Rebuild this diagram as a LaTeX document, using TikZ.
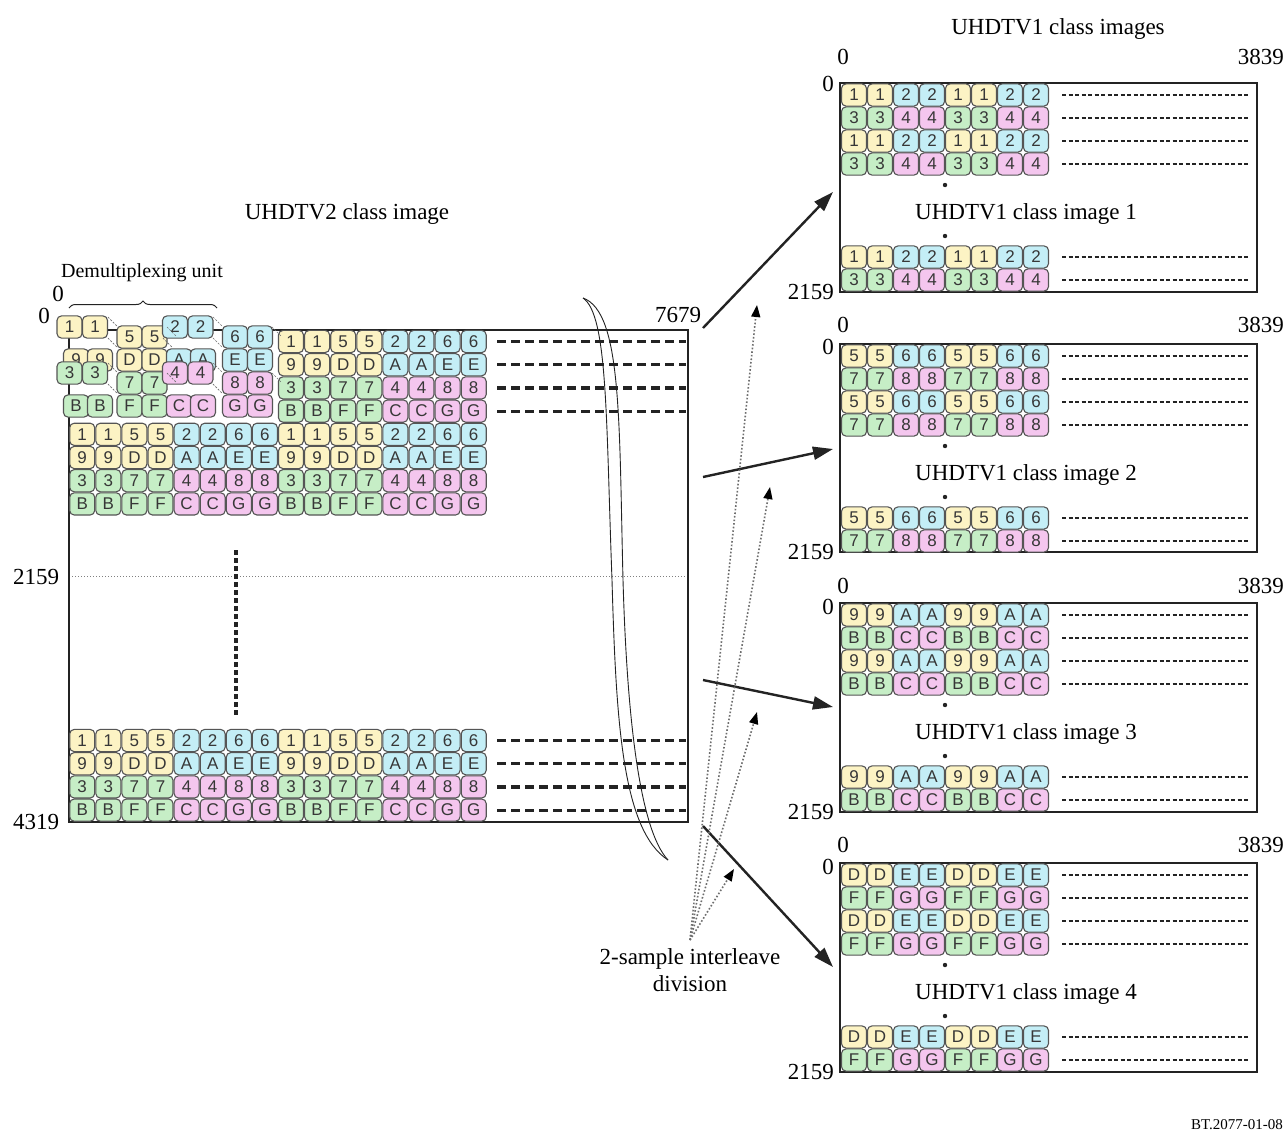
\documentclass[tikz,border=0pt]{standalone}
\usepackage{fontspec}
\setmainfont{Liberation Serif}
\setsansfont{Liberation Sans}
\usetikzlibrary{arrows.meta,decorations.pathreplacing}
\definecolor{cy}{RGB}{252,243,196}
\definecolor{cc}{RGB}{196,238,246}
\definecolor{cg}{RGB}{198,238,198}
\definecolor{cp}{RGB}{244,198,238}
\definecolor{cb}{RGB}{85,85,85}
\definecolor{ct}{RGB}{55,55,55}
\definecolor{ln}{RGB}{35,35,35}
\definecolor{dg}{RGB}{110,110,110}
\tikzset{
 cellbox/.style={draw=cb, line width=1.1pt, rounded corners=4.5pt, minimum width=25pt, minimum height=22.2pt, inner sep=0pt, font=\sffamily\fontsize{17}{17}\selectfont, text=ct},
 lbl/.style={font=\fontsize{23}{27}\selectfont, inner sep=0pt, text=black},
 frame/.style={line width=2pt, draw=ln},
 thickdash/.style={line width=3.2pt, draw=ln, dash pattern=on 9pt off 5pt},
 thindash/.style={line width=1.4pt, draw=ln, dash pattern=on 4pt off 2.5pt},
 vdots/.style={line width=4pt, draw=ln, dash pattern=on 5pt off 3pt},
 ghost/.style={line width=0.7pt, draw=dg, dash pattern=on 2pt off 1.5pt},
 bigarrow/.style={line width=2.4pt, draw=ln, -{Triangle[length=20pt,width=13pt]}},
 dotarrow/.style={line width=1.6pt, draw=dg, dotted, -{Triangle[length=12pt,width=9pt,color=black]}},
 wave/.style={line width=0.9pt, draw=ln}
}
\newcommand\cellrow[4]{\foreach \lab/\col [count=\i from 0] in #4 {\node[cellbox, fill=\col] at ({#1+#3*\i},{#2}) {\lab};}}
\newcommand\ucell[4]{\node[cellbox, fill=#3] at (#1,#2) {#4};}
\def\rA{1/cy,1/cy,5/cy,5/cy,2/cc,2/cc,6/cc,6/cc}
\def\rB{9/cy,9/cy,D/cy,D/cy,A/cc,A/cc,E/cc,E/cc}
\def\rC{3/cg,3/cg,7/cg,7/cg,4/cp,4/cp,8/cp,8/cp}
\def\rD{B/cg,B/cg,F/cg,F/cg,C/cp,C/cp,G/cp,G/cp}
\def\iAa{1/cy,1/cy,2/cc,2/cc,1/cy,1/cy,2/cc,2/cc}
\def\iAb{3/cg,3/cg,4/cp,4/cp,3/cg,3/cg,4/cp,4/cp}
\def\iBa{5/cy,5/cy,6/cc,6/cc,5/cy,5/cy,6/cc,6/cc}
\def\iBb{7/cg,7/cg,8/cp,8/cp,7/cg,7/cg,8/cp,8/cp}
\def\iCa{9/cy,9/cy,A/cc,A/cc,9/cy,9/cy,A/cc,A/cc}
\def\iCb{B/cg,B/cg,C/cp,C/cp,B/cg,B/cg,C/cp,C/cp}
\def\iDa{D/cy,D/cy,E/cc,E/cc,D/cy,D/cy,E/cc,E/cc}
\def\iDb{F/cg,F/cg,G/cp,G/cp,F/cg,F/cg,G/cp,G/cp}
\newcommand\uimg[7]{%
 \draw[frame] (840,#1) rectangle (1257,#2);
 \cellrow{854}{#1+12}{26}{#4}
 \cellrow{854}{#1+35}{26}{#5}
 \cellrow{854}{#1+58}{26}{#4}
 \cellrow{854}{#1+81}{26}{#5}
 \cellrow{854}{#1+174}{26}{#4}
 \cellrow{854}{#1+197}{26}{#5}
 \foreach \d in {12,35,58,81,174,197} {\draw[thindash] (1062,{#1+\d}) -- (1248,{#1+\d});}
 \node[lbl] (cap#3) at (1026,{#1+131}) {UHDTV1 class image #3};
 \fill[ln] (945,{#1+102}) circle (2.2);
 \fill[ln] (945,{#1+153}) circle (2.2);
 \node[lbl] (tl#3) at (843,#6) {0};
 \node[lbl,anchor=east] (tr#3) at (1284,#6) {3839};
 \node[lbl] (ll#3) at (828,#7) {0};
 \node[lbl,anchor=east] (lb#3) at (834,#2) {2159};
}
\begin{document}
\begin{tikzpicture}[x=1pt,y=-1pt]
\useasboundingbox (0,0) rectangle (1285,1133);
\fill[white] (0,0) rectangle (1285,1133);

% ---- titles and labels, left
\node[lbl] (t2) at (347,214) {UHDTV2 class image};
\node[lbl, font=\fontsize{20}{24}\selectfont] (dmx) at (142,273) {Demultiplexing unit};
\draw[decorate, decoration={brace, amplitude=7pt}, line width=1pt, draw=ln] (69,308) -- (217,308);
\node[lbl] (z1) at (58,294) {0};
\node[lbl] (z2) at (44,316) {0};
\node[lbl] (n7679) at (678,315) {7679};
\node[lbl] (n2159) at (36,577) {2159};
\node[lbl] (n4319) at (36,822) {4319};

% ---- big image
\draw[gray, dotted, line width=1pt] (69,576) -- (688,576);
\draw[frame] (69,330) rectangle (688,822);

% right block of the first 4 rows
\cellrow{291}{341.5}{26.1}{\rA}
\cellrow{291}{364.7}{26.1}{\rB}
\cellrow{291}{387.9}{26.1}{\rC}
\cellrow{291}{411.1}{26.1}{\rD}
% rows 5-8 and bottom rows
\foreach \xx in {82.2,291}{
 \cellrow{\xx}{434.3}{26.1}{\rA}
 \cellrow{\xx}{457.5}{26.1}{\rB}
 \cellrow{\xx}{480.7}{26.1}{\rC}
 \cellrow{\xx}{503.9}{26.1}{\rD}
 \cellrow{\xx}{740.5}{26.1}{\rA}
 \cellrow{\xx}{763.7}{26.1}{\rB}
 \cellrow{\xx}{786.9}{26.1}{\rC}
 \cellrow{\xx}{810.1}{26.1}{\rD}
}

% exploded demultiplexing unit
\ucell{76}{360}{cy}{9}\ucell{100}{360}{cy}{9}
\ucell{129.5}{360}{cy}{D}\ucell{154.5}{360}{cy}{D}
\ucell{179}{360}{cc}{A}\ucell{203}{360}{cc}{A}
\ucell{235}{360}{cc}{E}\ucell{260}{360}{cc}{E}
\ucell{129.5}{337}{cy}{5}\ucell{154.5}{337}{cy}{5}
\ucell{235}{337}{cc}{6}\ucell{260}{337}{cc}{6}
\ucell{69.5}{327}{cy}{1}\ucell{95}{327}{cy}{1}
\ucell{175}{327}{cc}{2}\ucell{200.5}{327}{cc}{2}
\ucell{76}{406}{cg}{B}\ucell{100}{406}{cg}{B}
\ucell{129.5}{406}{cg}{F}\ucell{154.5}{406}{cg}{F}
\ucell{179}{406}{cp}{C}\ucell{203}{406}{cp}{C}
\ucell{235}{406}{cp}{G}\ucell{260}{406}{cp}{G}
\ucell{129.5}{383}{cg}{7}\ucell{154.5}{383}{cg}{7}
\ucell{235}{383}{cp}{8}\ucell{260}{383}{cp}{8}
\ucell{69.5}{373}{cg}{3}\ucell{95}{373}{cg}{3}
\ucell{175}{373}{cp}{4}\ucell{200.5}{373}{cp}{4}
% ghost extrusion lines
\foreach \gx/\gy in {108/317,108/338,163/338,213/317,213/338,108/363,108/384,213/363,213/384,167/327,272/327,167/373,272/373}{
 \draw[ghost] (\gx,\gy) -- ++(9,9);
}

% thick dashed continuation lines
\foreach \yy in {341.5,364.7,387.9,411.1,740.5,763.7,786.9,810.1}{
 \draw[thickdash] (497,\yy) -- (686,\yy);
}
\draw[vdots] (236,550) -- (236,716);

% break (wave) lines
\draw[wave] (583,298) .. controls (608,315) and (606,420) .. (612,580) .. controls (616,720) and (622,830) .. (668,860);
\draw[wave] (583,298) .. controls (622,312) and (619,420) .. (623,580) .. controls (627,720) and (640,830) .. (668,860);

% ---- right images
\node[lbl] (t1) at (1058,29) {UHDTV1 class images};
\uimg{83}{292}{1}{\iAa}{\iAb}{57}{84}
\uimg{344}{552}{2}{\iBa}{\iBb}{325}{347}
\uimg{603}{812}{3}{\iCa}{\iCb}{586}{607}
\uimg{863}{1072}{4}{\iDa}{\iDb}{845}{867}

% ---- arrows
\coordinate (s1) at (703,328); \coordinate (e1) at (833,192);
\coordinate (s2) at (703,477); \coordinate (e2) at (833,449);
\coordinate (s3) at (703,680); \coordinate (e3) at (833,707);
\coordinate (s4) at (703,826); \coordinate (e4) at (833,967);
\draw[bigarrow] (s1) -- (e1);
\draw[bigarrow] (s2) -- (e2);
\draw[bigarrow] (s3) -- (e3);
\draw[bigarrow] (s4) -- (e4);

\node[lbl, align=center] (div) at (690,970) {2-sample interleave\\division};
\coordinate (dv) at (690,940);
\coordinate (d1) at (757,305);
\coordinate (d2) at (770,487);
\coordinate (d3) at (757,712);
\coordinate (d4) at (734,869);
\draw[dotarrow] (dv) -- (d1);
\draw[dotarrow] (dv) -- (d2);
\draw[dotarrow] (dv) -- (d3);
\draw[dotarrow] (dv) -- (d4);

\node[lbl, font=\fontsize{15}{18}\selectfont, anchor=east] (bt) at (1283,1125) {BT.2077-01-08};
\end{tikzpicture}
\end{document}
